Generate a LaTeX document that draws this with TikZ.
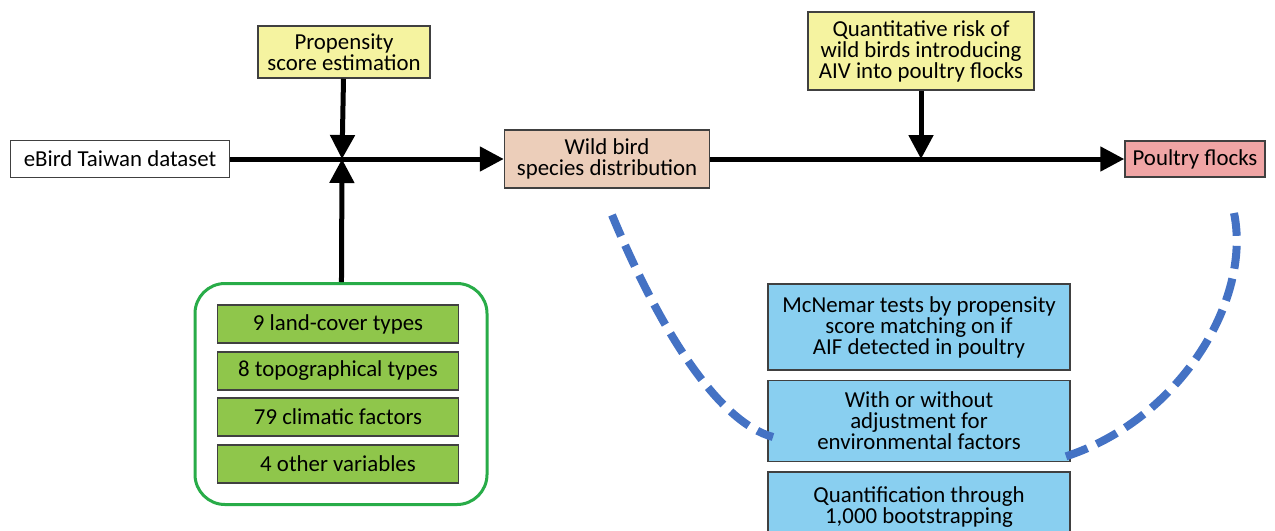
\documentclass[tikz,border=0pt]{standalone}
\usepackage{fontspec}
\setmainfont{Carlito}
\usetikzlibrary{arrows.meta}

\definecolor{propyellow}{RGB}{245,243,160}
\definecolor{wildpeach}{RGB}{236,206,186}
\definecolor{poultrypink}{RGB}{240,165,165}
\definecolor{envgreen}{RGB}{143,198,75}
\definecolor{envframe}{RGB}{40,172,72}
\definecolor{testblue}{RGB}{137,207,240}
\definecolor{arcblue}{RGB}{68,114,196}

\begin{document}
\begin{tikzpicture}[x=0.2mm,y=-0.2mm,
    box/.style={draw=black!75,line width=0.3mm,align=center,inner sep=0pt,
      font=\fontsize{13}{12}\selectfont},
    flow/.style={line width=1mm,-{Triangle[width=4.8mm,length=4.8mm]}},
    arc/.style={draw=arcblue,line width=1.6mm,dash pattern=on 4.6mm off 2mm}]
  \useasboundingbox (0,0) rectangle (1275,530);

  % top row
  \node[box,fill=white,minimum width=43.8mm,minimum height=7.4mm] (ebird) at (120,159) {eBird Taiwan dataset};
  \node[box,fill=propyellow,minimum width=34.4mm,minimum height=10.4mm] (prop) at (344,52) {Propensity\\score estimation};
  \node[box,fill=wildpeach,minimum width=41mm,minimum height=11.6mm] (wild) at (607,159) {Wild bird\\species distribution};
  \node[box,fill=propyellow,minimum width=45.2mm,minimum height=15.6mm] (quant) at (921,51) {Quantitative risk of\\wild birds introducing\\AIV into poultry flocks};
  \node[box,fill=poultrypink,minimum width=28mm,minimum height=7.2mm] (poultry) at (1195,159) {Poultry flocks};
  \coordinate (junc) at (342,159);

  % environmental variables
  \node[draw=envframe,line width=0.6mm,rounded corners=6mm,minimum width=58.4mm,minimum height=44.2mm] (envbox) at (341,394) {};
  \foreach \y/\txt [count=\i] in {324/9 land-cover types,371/8 topographical types,417/79 climatic factors,464/4 other variables}
    \node[box,fill=envgreen,minimum width=48.2mm,minimum height=7.6mm] (env\i) at (338,\y) {\txt};

  % tests
  \node[box,fill=testblue,minimum width=60.4mm,minimum height=17.2mm] (mcnemar) at (919,327) {McNemar tests by propensity\\score matching on if\\AIF detected in poultry};
  \node[box,fill=testblue,minimum width=60.4mm,minimum height=16.2mm] (adjust) at (919,421) {With or without\\adjustment for\\environmental factors};
  \node[box,fill=testblue,minimum width=60.4mm,minimum height=14mm] (boot) at (919,507) {Quantification through\\1,000 bootstrapping};

  % arrows
  \draw[flow] (ebird) -- (wild);
  \draw[flow] (wild) -- (poultry);
  \draw[flow] (prop) -- (junc);
  \draw[flow] (envbox) -- (junc);
  \draw[flow] (quant.south) -- (quant.south |- wild.east);

  % dashed arcs
  \coordinate (arcla) at (612,215);
  \coordinate (arclb) at (773,437);
  \coordinate (arcra) at (1234,213);
  \coordinate (arcrb) at (1064,457);
  \draw[arc] (arcla) .. controls (660,330) and (718,422) .. (arclb);
  \draw[arc] (arcra) .. controls (1252,300) and (1180,420) .. (arcrb);
\end{tikzpicture}
\end{document}
